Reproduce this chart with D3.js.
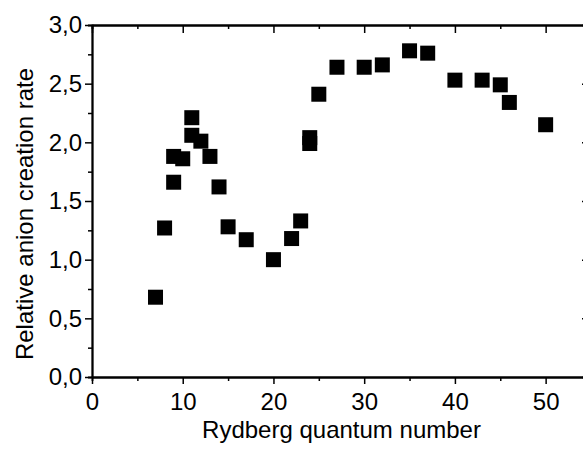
<!DOCTYPE html>
<html>
<head>
<meta charset="utf-8">
<script src="https://cdn.jsdelivr.net/npm/d3@7"></script>
<style>
  html, body { margin: 0; padding: 0; background: #fff; overflow: hidden; }
  svg { display: block; }
  text { font-family: "Liberation Sans", Arial, sans-serif; fill: #000; }
</style>
</head>
<body>
<svg id="chart" width="583" height="449"></svg>
<script>
// Data
const rydbergN = [7, 8, 9, 9, 10, 11, 11, 12, 13, 14, 15, 17, 20, 22, 23, 24, 24, 25, 27, 30, 32, 35, 37, 40, 43, 45, 46, 50];
const anionRate = [0.68, 1.27, 1.88, 1.66, 1.86, 2.21, 2.06, 2.01, 1.88, 1.62, 1.28, 1.17, 1.00, 1.18, 1.33, 2.04, 1.99, 2.41, 2.64, 2.64, 2.66, 2.78, 2.76, 2.53, 2.53, 2.49, 2.34, 2.15];
const xMajorTicks = [0, 10, 20, 30, 40, 50];
const xMinorTicks = [5, 15, 25, 35, 45, 55];
const yMajorTicks = [0, 0.5, 1.0, 1.5, 2.0, 2.5, 3.0];
const yMinorTicks = [0.25, 0.75, 1.25, 1.75, 2.25, 2.75];
const xTitle = "Rydberg quantum number";
const yTitle = "Relative anion creation rate";

const svg = d3.select("#chart");
const mLeft = 92, mRight = 591, mTop = 25, mBottom = 377;

const x = d3.scaleLinear().domain([0, 55]).range([mLeft, mRight]);
const y = d3.scaleLinear().domain([0, 3]).range([mBottom, mTop]);
const fmt = v => d3.format(".1f")(v).replace(".", ",");

function styleAxis(g) {
  g.select(".domain").attr("stroke", "#000").attr("stroke-width", 1.8);
  g.selectAll(".tick line").attr("stroke", "#000").attr("stroke-width", 1.5);
  g.selectAll("text").style("font-size", "24px").attr("fill", "#000");
}

// Bottom axis
svg.append("g").attr("transform", `translate(0,${mBottom})`)
  .call(d3.axisBottom(x).tickValues(xMinorTicks).tickSize(4).tickFormat(""))
  .call(styleAxis);
svg.append("g").attr("transform", `translate(0,${mBottom})`)
  .call(d3.axisBottom(x).tickValues(xMajorTicks).tickSize(7).tickPadding(9).tickSizeOuter(0).tickFormat(d3.format("d")))
  .call(styleAxis);

// Top axis (ticks inward)
svg.append("g").attr("transform", `translate(0,${mTop})`)
  .call(d3.axisTop(x).tickValues(xMinorTicks).tickSize(-4).tickFormat(""))
  .call(styleAxis);
svg.append("g").attr("transform", `translate(0,${mTop})`)
  .call(d3.axisTop(x).tickValues(xMajorTicks).tickSize(-8).tickSizeOuter(0).tickFormat(""))
  .call(styleAxis);

// Left axis
svg.append("g").attr("transform", `translate(${mLeft},0)`)
  .call(d3.axisLeft(y).tickValues(yMinorTicks).tickSize(4).tickFormat(""))
  .call(styleAxis);
svg.append("g").attr("transform", `translate(${mLeft},0)`)
  .call(d3.axisLeft(y).tickValues(yMajorTicks).tickSize(7).tickPadding(3).tickSizeOuter(0).tickFormat(fmt))
  .call(styleAxis);

// Right axis (ticks inward, mostly clipped)
svg.append("g").attr("transform", `translate(${mRight},0)`)
  .call(d3.axisRight(y).tickValues(yMinorTicks).tickSize(-4).tickFormat(""))
  .call(styleAxis);
svg.append("g").attr("transform", `translate(${mRight},0)`)
  .call(d3.axisRight(y).tickValues(yMajorTicks).tickSize(-9).tickSizeOuter(0).tickFormat(""))
  .call(styleAxis);

// Data markers
const size = 15;
svg.append("g").selectAll("rect")
  .data(rydbergN.map((n, i) => ({ n, v: anionRate[i] })))
  .join("rect")
  .attr("x", d => x(d.n) - size / 2)
  .attr("y", d => y(d.v) - size / 2)
  .attr("width", size)
  .attr("height", size)
  .attr("fill", "#000");

// Axis titles
svg.append("text")
  .attr("x", (mLeft + mRight) / 2)
  .attr("y", 438)
  .attr("text-anchor", "middle")
  .style("font-size", "24px")
  .text(xTitle);

svg.append("text")
  .attr("transform", "translate(33,214) rotate(-90)")
  .attr("text-anchor", "middle")
  .style("font-size", "24px")
  .text(yTitle);
</script>
</body>
</html>
